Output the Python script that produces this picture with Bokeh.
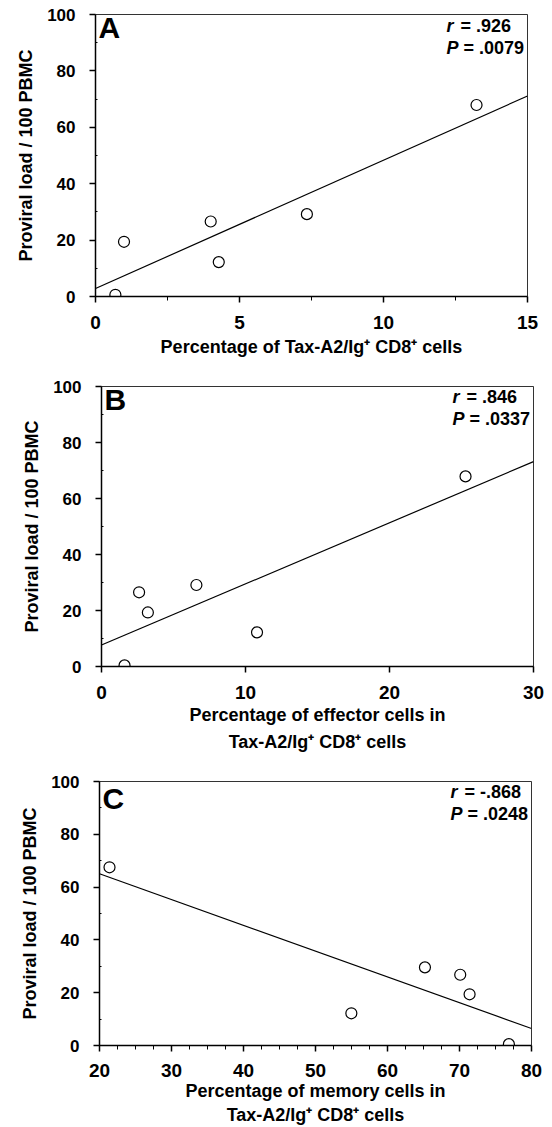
import numpy as np
from bokeh.plotting import figure
from bokeh.models import Label, Range1d, FixedTicker
from bokeh.layouts import column, row
from bokeh.embed import file_html
from bokeh.resources import INLINE

FONT = "Liberation Sans"

# ---- data ----
a_x = [0.69, 0.99, 4.00, 4.28, 7.34, 13.23]
a_y = [0.6, 19.4, 26.6, 12.2, 29.2, 67.9]

b_x = [1.60, 2.61, 3.22, 6.59, 10.80, 25.28]
b_y = [0.4, 26.5, 19.3, 29.1, 12.2, 67.9]

c_x = [21.39, 54.98, 65.20, 70.10, 71.40, 76.86]
c_y = [67.5, 12.2, 29.6, 26.8, 19.4, 0.5]

a_xticks = [0, 5, 10, 15]
b_xticks = [0, 10, 20, 30]
c_xticks = [20, 30, 40, 50, 60, 70, 80]
y_ticks = [0, 20, 40, 60, 80, 100]

letters = ["A", "B", "C"]
r_texts = ["= .926", "= .846", "= -.868"]
p_texts = ["= .0079", "= .0337", "= .0248"]
x_titles = [
    "Percentage of Tax-A2/Ig\u207a CD8\u207a cells",
    "Percentage of effector cells in\nTax-A2/Ig\u207a CD8\u207a cells",
    "Percentage of memory cells in\nTax-A2/Ig\u207a CD8\u207a cells",
]
y_title = "Proviral load / 100 PBMC"


def panel(xs, ys, xticks, minor_step, letter, rt, pt, xtitle,
          height, b_left, b_right, b_top, b_bottom,
          letter_dy, title_lh, title_standoff, xlabel_standoff):
    x0, x1 = xticks[0], xticks[-1]
    p = figure(width=552, height=height, output_backend="svg",
               toolbar_location=None, x_range=Range1d(x0, x1),
               y_range=Range1d(0, 100))
    p.min_border_left = b_left
    p.min_border_right = b_right
    p.min_border_top = b_top
    p.min_border_bottom = b_bottom
    p.background_fill_color = "white"
    p.border_fill_color = "white"
    p.grid.visible = False
    p.outline_line_color = "black"
    p.outline_line_width = 1
    p.outline_line_alpha = 0.8

    minors = []
    if minor_step:
        minors = [float(v) for v in np.arange(x0, x1 + 1e-9, minor_step) if v not in xticks]
    p.xaxis.ticker = FixedTicker(ticks=xticks, minor_ticks=minors)
    p.yaxis.ticker = FixedTicker(ticks=y_ticks, minor_ticks=[10, 30, 50, 70, 90])

    for ax in (p.xaxis, p.yaxis):
        ax.axis_line_color = "black"
        ax.axis_line_width = 1.5
        ax.major_tick_line_color = "black"
        ax.major_tick_line_width = 1.5
        ax.minor_tick_line_color = "black"
        ax.minor_tick_line_width = 1
        ax.major_tick_in = 0
        ax.major_tick_out = 6
        ax.major_label_text_font = FONT
        ax.major_label_text_font_style = "bold"
        ax.major_label_text_color = "black"
        ax.axis_label_text_font = FONT
        ax.axis_label_text_font_style = "bold"
        ax.axis_label_text_color = "black"
        ax.axis_label_text_font_size = "18px"

    p.xaxis.minor_tick_in = 0
    p.xaxis.minor_tick_out = 4
    p.yaxis.minor_tick_in = 2
    p.yaxis.minor_tick_out = 0
    p.xaxis.major_label_text_font_size = "19px"
    p.yaxis.major_label_text_font_size = "17px"
    p.xaxis.major_label_standoff = xlabel_standoff
    p.yaxis.major_label_standoff = 14
    p.xaxis.axis_label_standoff = title_standoff
    p.yaxis.axis_label_standoff = 8
    p.xaxis.axis_label = xtitle
    p.xaxis.axis_label_text_line_height = title_lh
    p.yaxis.axis_label = y_title

    # regression line fitted to the points
    coef = np.polyfit(xs, ys, 1)
    xe = np.array([x0, x1], dtype=float)
    p.line(xe, np.polyval(coef, xe), line_color="black", line_width=1.2)

    p.scatter(xs, ys, marker="circle", size=11, fill_color="white",
              line_color="black", line_width=1.2)

    frame_h = height - b_top - b_bottom
    ppu = frame_h / 100.0

    p.add_layout(Label(x=x0, y=100 + letter_dy / ppu, x_offset=3, text=letter,
                       text_font=FONT, text_font_style="bold",
                       text_font_size="30px", text_baseline="top",
                       text_align="left", text_color="black"))

    y_r = 100 - 11 / ppu
    y_p = 100 - 33 / ppu
    common = dict(text_font=FONT, text_font_size="18px", text_baseline="middle",
                  text_align="left", text_color="black")
    p.add_layout(Label(x=x1, y=y_r, x_offset=-81, text="r",
                       text_font_style="bold italic", **common))
    p.add_layout(Label(x=x1, y=y_r, x_offset=-67, text=rt,
                       text_font_style="bold", **common))
    p.add_layout(Label(x=x1, y=y_p, x_offset=-81, text="P",
                       text_font_style="bold italic", **common))
    p.add_layout(Label(x=x1, y=y_p, x_offset=-64, text=pt,
                       text_font_style="bold", **common))
    return p


pA = panel(a_x, a_y, a_xticks, 2.5, letters[0], r_texts[0], p_texts[0], x_titles[0],
           height=370, b_left=95, b_right=25, b_top=14, b_bottom=74,
           letter_dy=4, title_lh=1.3, title_standoff=5, xlabel_standoff=13)
pB = panel(b_x, b_y, b_xticks, None, letters[1], r_texts[1], p_texts[1], x_titles[1],
           height=384, b_left=101, b_right=19, b_top=16, b_bottom=87,
           letter_dy=4, title_lh=1.35, title_standoff=3, xlabel_standoff=13)
pC = panel(c_x, c_y, c_xticks, 2.5, letters[2], r_texts[2], p_texts[2], x_titles[2],
           height=373, b_left=99, b_right=21, b_top=27, b_bottom=81,
           letter_dy=-1, title_lh=1.22, title_standoff=1, xlabel_standoff=12)

layout = column(row(pA), row(pB), row(pC))
open("out.html", "w").write(file_html(layout, INLINE))
